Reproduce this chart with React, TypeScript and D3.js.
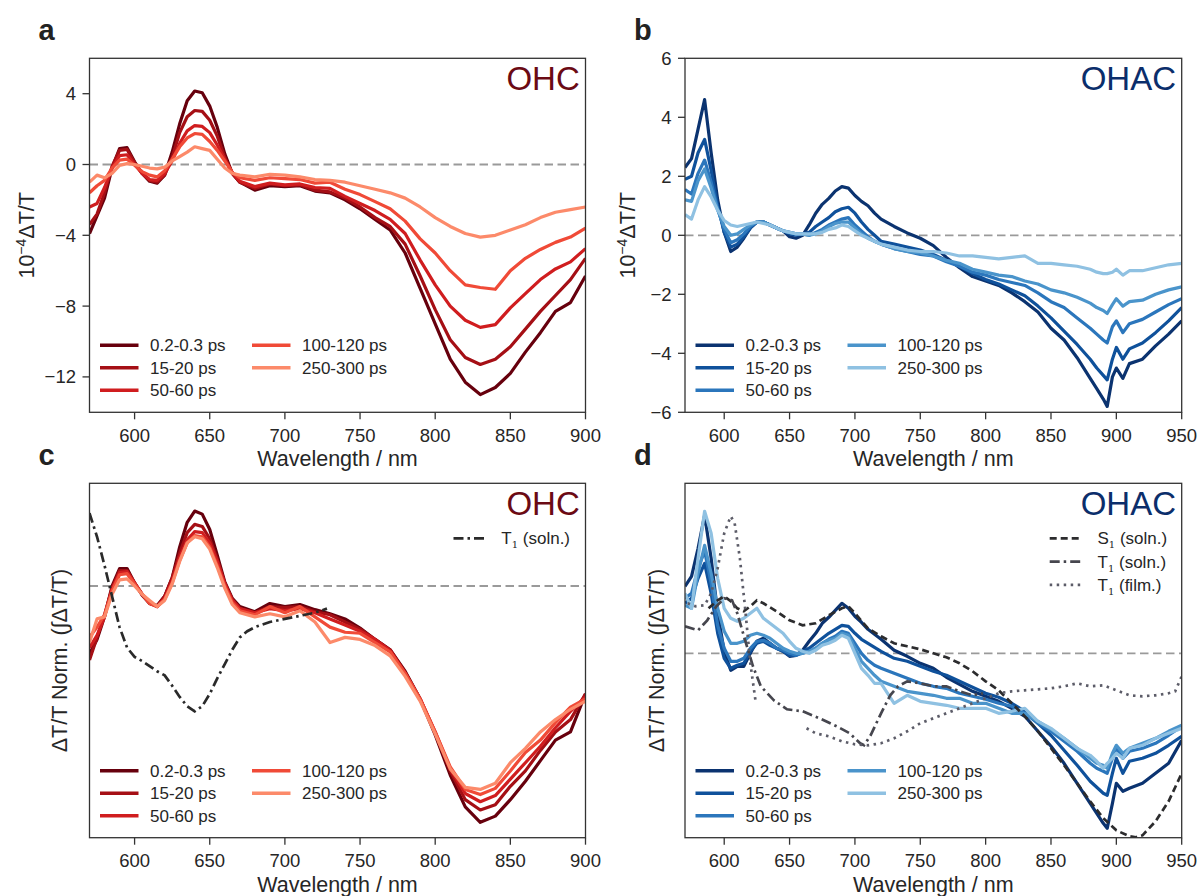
import React from 'react';
import * as d3 from 'd3';

const FONT = '"Liberation Sans", Arial, Helvetica, sans-serif';
const INK = '#262626';

// legend labels and line colours
const delayLabels = ['0.2-0.3 ps', '15-20 ps', '50-60 ps', '100-120 ps', '250-300 ps'];
const redShades = ['#67000d', '#a50f15', '#d01d1f', '#f04a37', '#fc8a6a'];
const blueShades = ['#0b3370', '#0f519b', '#2b76bc', '#4a94cb', '#8fc1e2'];

// wavelength grids (nm)
const wlOHC = [570, 575, 580, 585, 590, 595, 600, 605, 610, 615, 620, 625, 630, 635, 640, 645, 650, 655, 660, 665, 670,
  680, 690, 700, 710, 720, 730, 740, 750, 760, 770, 780, 790, 800, 810, 820, 830, 840, 850, 860, 870, 880, 890, 900];
const wlOHAC = [570, 575, 580, 585, 590, 595, 600, 605, 610, 615, 620, 625, 630, 635, 640, 645, 650, 655, 660, 665, 670,
  675, 680, 685, 690, 695, 700, 705, 710, 715, 720, 730, 740, 750, 760, 770, 780, 790, 800, 810, 820, 830, 840, 850,
  860, 870, 880, 885, 890, 893, 897, 900, 905, 910, 920, 930, 940, 950];

// panel a : OHC, 10^-4 dT/T
const ohcA_02 = [-3.9, -2.9, -1.9, -0.2, 0.9, 0.95, 0.15, -0.5, -0.95, -1.05, -0.6, 0.7, 2.3, 3.6, 4.15, 4.05, 3.3, 2.1, 0.6, -0.5, -1.0,
  -1.45, -1.2, -1.25, -1.2, -1.5, -1.6, -2.0, -2.5, -3.1, -3.7, -5.0, -7.0, -9.0, -11.0, -12.3, -13.0, -12.6, -11.8, -10.6, -9.5, -8.3, -7.8, -6.3];
const ohcA_15 = [-3.4, -2.8, -1.6, -0.1, 0.8, 0.85, 0.1, -0.5, -0.9, -1.0, -0.6, 0.4, 1.8, 2.7, 3.05, 3.0, 2.5, 1.6, 0.4, -0.5, -1.0,
  -1.35, -1.1, -1.2, -1.15, -1.45, -1.55, -1.9, -2.4, -3.0, -3.5, -4.5, -6.3, -8.2, -9.9, -10.9, -11.3, -11.0, -10.3, -9.3, -8.3, -7.4, -6.5, -5.3];
const ohcA_50 = [-2.4, -2.2, -1.3, -0.2, 0.5, 0.55, 0.0, -0.5, -0.85, -0.9, -0.5, 0.2, 1.2, 1.9, 2.2, 2.15, 1.8, 1.1, 0.3, -0.45, -0.95,
  -1.25, -1.05, -1.15, -1.1, -1.3, -1.35, -1.8, -2.2, -2.6, -3.1, -3.9, -5.4, -6.8, -8.0, -8.8, -9.2, -9.05, -8.1, -7.3, -6.5, -5.9, -5.5, -4.75];
const ohcA_100 = [-1.6, -1.2, -0.9, -0.2, 0.25, 0.3, -0.05, -0.4, -0.6, -0.7, -0.35, 0.3, 1.0, 1.5, 1.75, 1.7, 1.3, 0.8, 0.2, -0.45, -0.75,
  -0.9, -0.75, -0.8, -0.85, -1.05, -1.0, -1.4, -1.7, -2.1, -2.5, -3.2, -4.2, -5.0, -6.0, -6.8, -6.95, -7.05, -6.0, -5.3, -4.8, -4.4, -4.1, -3.6];
const ohcA_250 = [-1.0, -0.6, -0.75, -0.5, -0.05, 0.05, 0.0, -0.1, -0.2, -0.25, -0.15, 0.2, 0.45, 0.7, 1.0, 0.9, 0.8, 0.3, -0.2, -0.5, -0.6,
  -0.7, -0.55, -0.6, -0.7, -0.85, -0.9, -1.0, -1.2, -1.4, -1.6, -1.9, -2.4, -3.0, -3.5, -3.9, -4.1, -4.0, -3.7, -3.4, -3.0, -2.7, -2.55, -2.4];

// panel b : OHAC, 10^-4 dT/T
const ohacB_02 = [2.3, 2.6, 3.6, 4.6, 2.8, 1.2, 0.1, -0.55, -0.4, -0.1, 0.25, 0.45, 0.45, 0.35, 0.25, 0.15, -0.05, -0.1, 0.0, 0.35, 0.75,
  1.05, 1.25, 1.5, 1.65, 1.6, 1.35, 1.15, 1.0, 0.75, 0.55, 0.3, 0.08, -0.1, -0.35, -0.75, -1.1, -1.4, -1.55, -1.7, -1.95, -2.25, -2.6, -3.15,
  -3.55, -4.15, -4.85, -5.2, -5.55, -5.8, -4.8, -4.5, -4.85, -4.35, -4.2, -3.75, -3.35, -2.9];
const ohacB_15 = [1.9, 2.0, 2.8, 3.25, 2.2, 1.0, 0.1, -0.4, -0.3, -0.05, 0.25, 0.45, 0.45, 0.35, 0.25, 0.15, 0.05, 0.0, 0.05, 0.1, 0.3,
  0.45, 0.6, 0.8, 0.9, 0.95, 0.75, 0.45, 0.2, 0.0, -0.2, -0.3, -0.4, -0.5, -0.65, -0.85, -1.05, -1.3, -1.5, -1.65, -1.85, -2.05, -2.4, -2.8,
  -3.25, -3.7, -4.2, -4.5, -4.75, -4.9, -4.2, -3.8, -4.2, -3.85, -3.65, -3.3, -2.9, -2.45];
const ohacB_50 = [1.55, 1.4, 2.1, 2.55, 1.8, 0.9, 0.2, -0.25, -0.15, 0.05, 0.3, 0.45, 0.45, 0.35, 0.25, 0.15, 0.1, 0.05, 0.05, 0.0, 0.1,
  0.2, 0.35, 0.45, 0.55, 0.6, 0.35, 0.15, -0.05, -0.2, -0.3, -0.45, -0.55, -0.65, -0.7, -0.9, -1.05, -1.25, -1.35, -1.5, -1.6, -1.7, -1.95, -2.25,
  -2.45, -2.8, -3.15, -3.35, -3.55, -3.65, -3.1, -2.9, -3.3, -3.0, -2.85, -2.6, -2.35, -2.15];
const ohacB_100 = [1.2, 1.15, 1.85, 2.25, 1.6, 0.85, 0.3, 0.0, 0.05, 0.2, 0.35, 0.45, 0.45, 0.35, 0.25, 0.15, 0.1, 0.05, 0.05, 0.0, 0.05,
  0.15, 0.3, 0.4, 0.45, 0.45, 0.25, 0.05, -0.1, -0.2, -0.3, -0.45, -0.55, -0.6, -0.7, -0.85, -0.95, -1.15, -1.25, -1.35, -1.4, -1.55, -1.65, -1.85,
  -1.95, -2.1, -2.3, -2.45, -2.55, -2.65, -2.35, -2.15, -2.4, -2.25, -2.2, -2.0, -1.85, -1.75];
const ohacB_250 = [0.7, 0.55, 1.2, 1.65, 1.3, 0.85, 0.5, 0.35, 0.3, 0.35, 0.4, 0.45, 0.4, 0.35, 0.25, 0.15, 0.1, 0.05, 0.05, 0.05, 0.05,
  0.1, 0.2, 0.25, 0.35, 0.3, 0.15, 0.0, -0.1, -0.2, -0.3, -0.4, -0.5, -0.55, -0.55, -0.6, -0.7, -0.7, -0.75, -0.8, -0.75, -0.7, -0.95, -0.95,
  -1.0, -1.05, -1.15, -1.25, -1.3, -1.3, -1.25, -1.15, -1.35, -1.2, -1.2, -1.1, -1.0, -0.95];

// panel c : OHC, normalised
const ohcC_02 = [-0.66, -0.52, -0.3, 0.0, 0.17, 0.17, 0.03, -0.09, -0.17, -0.19, -0.1, 0.08, 0.38, 0.62, 0.73, 0.7, 0.55, 0.3, 0.04, -0.12, -0.2,
  -0.25, -0.17, -0.2, -0.18, -0.23, -0.27, -0.32, -0.41, -0.52, -0.62, -0.83, -1.1, -1.45, -1.84, -2.15, -2.3, -2.24, -2.08, -1.9, -1.7, -1.5, -1.42, -1.05];
const ohcC_15 = [-0.72, -0.5, -0.28, -0.02, 0.15, 0.15, 0.03, -0.08, -0.17, -0.2, -0.1, 0.08, 0.32, 0.52, 0.6, 0.58, 0.46, 0.26, 0.03, -0.13, -0.22,
  -0.26, -0.2, -0.21, -0.2, -0.25, -0.28, -0.35, -0.42, -0.52, -0.62, -0.84, -1.1, -1.43, -1.8, -2.08, -2.18, -2.13, -1.95, -1.8, -1.6, -1.42, -1.3, -1.05];
const ohcC_50 = [-0.6, -0.48, -0.3, -0.03, 0.13, 0.14, 0.03, -0.08, -0.16, -0.2, -0.12, 0.05, 0.28, 0.45, 0.53, 0.52, 0.42, 0.24, 0.02, -0.14, -0.22,
  -0.26, -0.22, -0.24, -0.22, -0.26, -0.32, -0.38, -0.44, -0.52, -0.63, -0.85, -1.1, -1.42, -1.78, -2.02, -2.1, -2.04, -1.88, -1.72, -1.56, -1.38, -1.22, -1.08];
const ohcC_100 = [-0.5, -0.4, -0.28, -0.05, 0.11, 0.12, 0.02, -0.08, -0.17, -0.2, -0.13, 0.03, 0.25, 0.42, 0.49, 0.48, 0.38, 0.2, 0.0, -0.16, -0.24,
  -0.28, -0.2, -0.26, -0.2, -0.3, -0.4, -0.45, -0.46, -0.55, -0.64, -0.85, -1.1, -1.42, -1.76, -1.98, -2.03, -1.97, -1.8, -1.62, -1.5, -1.33, -1.18, -1.1];
const ohcC_250 = [-0.55, -0.32, -0.3, -0.08, 0.06, 0.07, 0.0, -0.08, -0.14, -0.2, -0.14, 0.02, 0.24, 0.42, 0.48, 0.46, 0.36, 0.18, -0.02, -0.18, -0.26,
  -0.3, -0.27, -0.3, -0.24, -0.35, -0.55, -0.5, -0.52, -0.58, -0.68, -0.88, -1.12, -1.44, -1.78, -1.96, -1.98, -1.92, -1.72, -1.58, -1.42, -1.3, -1.2, -1.12];
// triplet reference, OHC solution
const t1SolnOHC_wl = [570, 575, 580, 585, 590, 595, 600, 605, 610, 615, 620, 625, 630, 635, 640, 645, 650, 655, 660, 665, 670, 675, 680, 690, 700, 710, 720, 728];
const t1SolnOHC = [0.71, 0.48, 0.2, -0.1, -0.4, -0.6, -0.69, -0.73, -0.78, -0.83, -0.87, -0.97, -1.08, -1.17, -1.22, -1.17, -1.05, -0.9, -0.76, -0.62,
  -0.5, -0.44, -0.4, -0.35, -0.32, -0.29, -0.26, -0.22];

// panel d : OHAC, normalised
const ohacD_02 = [0.67, 0.77, 1.05, 1.38, 0.95, 0.4, 0.02, -0.17, -0.13, -0.13, 0.0, 0.12, 0.15, 0.1, 0.05, 0.02, -0.03, -0.02, 0.03, 0.12, 0.2,
  0.3, 0.36, 0.43, 0.5, 0.45, 0.37, 0.31, 0.24, 0.19, 0.14, 0.03, -0.03, -0.1, -0.15, -0.24, -0.31, -0.38, -0.43, -0.48, -0.55, -0.63, -0.78, -0.93,
  -1.1, -1.3, -1.5, -1.6, -1.7, -1.75, -1.5, -1.3, -1.38, -1.35, -1.3, -1.2, -1.1, -0.87];
const ohacD_15 = [0.5, 0.55, 0.75, 0.9, 0.6, 0.2, -0.05, -0.15, -0.12, -0.1, 0.02, 0.1, 0.12, 0.08, 0.05, 0.02, -0.02, -0.02, 0.02, 0.05, 0.1,
  0.15, 0.2, 0.24, 0.28, 0.27, 0.2, 0.14, 0.1, 0.06, 0.02, -0.05, -0.08, -0.13, -0.18, -0.22, -0.28, -0.34, -0.4, -0.44, -0.5, -0.58, -0.7, -0.82,
  -0.97, -1.12, -1.28, -1.34, -1.4, -1.42, -1.2, -1.05, -1.2, -1.08, -1.05, -1.0, -0.92, -0.83];
const ohacD_50 = [0.55, 0.6, 0.85, 1.02, 0.7, 0.28, 0.05, -0.08, -0.08, -0.05, 0.05, 0.12, 0.13, 0.1, 0.05, 0.03, 0.0, -0.02, 0.0, 0.02, 0.05,
  0.1, 0.14, 0.17, 0.22, 0.2, 0.1, 0.0, -0.07, -0.12, -0.15, -0.2, -0.25, -0.3, -0.33, -0.35, -0.4, -0.43, -0.46, -0.5, -0.53, -0.6, -0.7, -0.78,
  -0.88, -0.98, -1.1, -1.15, -1.18, -1.2, -1.05, -0.95, -1.05, -0.98, -0.95, -0.9, -0.82, -0.73];
const ohacD_100 = [0.48, 0.45, 0.8, 1.08, 0.8, 0.45, 0.22, 0.1, 0.1, 0.12, 0.18, 0.2, 0.18, 0.15, 0.1, 0.05, 0.02, 0.0, 0.0, 0.02, 0.05,
  0.1, 0.13, 0.15, 0.2, 0.18, 0.05, -0.08, -0.15, -0.22, -0.28, -0.33, -0.38, -0.4, -0.42, -0.45, -0.45, -0.5, -0.5, -0.55, -0.6, -0.6, -0.68, -0.76,
  -0.85, -0.95, -1.05, -1.1, -1.12, -1.15, -1.0, -0.92, -1.0, -0.95, -0.9, -0.85, -0.78, -0.72];
const ohacD_250 = [0.6, 0.45, 0.95, 1.42, 1.2, 0.75, 0.45, 0.35, 0.32, 0.35, 0.4, 0.45, 0.35, 0.3, 0.25, 0.2, 0.12, 0.05, 0.02, 0.0, 0.03,
  0.08, 0.1, 0.13, 0.18, 0.15, 0.0, -0.15, -0.22, -0.3, -0.3, -0.5, -0.42, -0.48, -0.5, -0.52, -0.55, -0.55, -0.55, -0.6, -0.58, -0.55, -0.68, -0.75,
  -0.85, -0.95, -1.02, -1.08, -1.15, -1.1, -1.05, -1.0, -1.05, -0.95, -0.92, -0.85, -0.8, -0.75];
// reference spectra, OHAC
const s1SolnOHAC_wl = [588, 595, 600, 605, 610, 615, 620, 625, 630, 640, 650, 660, 670, 680, 690, 695, 700, 710, 720, 730, 740, 750, 760, 770,
  780, 790, 800, 810, 820, 830, 840, 850, 860, 870, 880, 890, 900, 910, 915, 920, 930, 940, 950];
const s1SolnOHAC = [0.45, 0.53, 0.57, 0.52, 0.45, 0.42, 0.47, 0.53, 0.5, 0.42, 0.33, 0.28, 0.3, 0.38, 0.45, 0.47, 0.4, 0.25, 0.17, 0.1, 0.07,
  0.04, 0.0, -0.04, -0.1, -0.18, -0.28, -0.37, -0.5, -0.63, -0.78, -0.95, -1.12, -1.3, -1.48, -1.65, -1.77, -1.83, -1.84, -1.82, -1.68, -1.48, -1.2];
const t1SolnOHAC_wl = [570, 580, 587, 594, 600, 606, 610, 616, 622, 628, 638, 648, 660, 673, 686, 696, 704, 707, 712, 720, 727, 733, 740, 750,
  760, 770, 780, 790, 798];
const t1SolnOHAC = [0.27, 0.23, 0.33, 0.47, 0.55, 0.53, 0.4, 0.13, -0.13, -0.33, -0.47, -0.56, -0.58, -0.65, -0.73, -0.8, -0.9, -0.92, -0.82,
  -0.6, -0.42, -0.33, -0.28, -0.3, -0.33, -0.33, -0.38, -0.42, -0.4];
const t1FilmOHAC_wl = [572, 578, 585, 590, 595, 600, 605, 608, 612, 616, 620, 624, 640, 663, 670, 680, 690, 700, 710, 720, 730, 740, 750, 760,
  770, 780, 790, 800, 810, 820, 830, 840, 850, 860, 870, 880, 890, 900, 910, 920, 930, 940, 945, 950];
const t1FilmOHAC = [0.5, 0.47, 0.48, 0.6, 0.85, 1.2, 1.37, 1.3, 0.95, 0.45, -0.1, -0.48, null, -0.75, -0.8, -0.83, -0.88, -0.91, -0.92, -0.9,
  -0.85, -0.78, -0.7, -0.65, -0.6, -0.55, -0.5, -0.45, -0.4, -0.38, -0.37, -0.36, -0.35, -0.33, -0.3, -0.33, -0.32, -0.37, -0.42, -0.43, -0.42,
  -0.4, -0.38, -0.23];

const ticksOHC = [600, 650, 700, 750, 800, 850, 900];
const ticksOHAC = [600, 650, 700, 750, 800, 850, 900, 950];

const DASH = '7,4';
const DASHDOT = '10,4,2.5,4';
const DOT = '2.5,4.5';

const fmt = (v) => String(v).replace('-', '\u2212');

function Panel(props) {
  const { id, left, right, top, bottom, xMax, xTicks, yDomain, yTicks, curves, colors, refs, refLegend,
    tag, tagColor, letter, ylabel } = props;
  const x = d3.scaleLinear().domain([570, xMax]).range([left, right]);
  const y = d3.scaleLinear().domain(yDomain).range([bottom, top]);
  const line = d3.line()
    .defined((d) => d[1] !== null)
    .x((d) => x(d[0]))
    .y((d) => y(d[1]));
  const path = (w, v) => line(w.map((wl, i) => [wl, v[i]]));
  const rows = [bottom - 67, bottom - 44.5, bottom - 22];

  return (
    <g fontFamily={FONT} fill={INK}>
      <defs>
        <clipPath id={id}>
          <rect x={left} y={top} width={right - left} height={bottom - top} />
        </clipPath>
      </defs>
      <g clipPath={`url(#${id})`}>
        <line x1={left} x2={right} y1={y(0)} y2={y(0)} stroke="#9a9a9a" strokeWidth={1.8} strokeDasharray="8.5,4.5" />
        {curves.map((c, i) => (
          <path key={i} d={path(c.w, c.v)} fill="none" stroke={colors[i]} strokeWidth={3.2} strokeLinejoin="round" />
        ))}
        {refs.map((r, i) => (
          <path key={'r' + i} d={path(r.w, r.v)} fill="none" stroke={r.color} strokeWidth={2.7} strokeDasharray={r.dash} />
        ))}
      </g>
      <rect x={left} y={top} width={right - left} height={bottom - top} fill="none" stroke="#333" strokeWidth={1.3} />
      {xTicks.map((t) => (
        <g key={t}>
          <line x1={x(t)} x2={x(t)} y1={bottom} y2={bottom + 7} stroke="#333" strokeWidth={1.3} />
          <text x={x(t)} y={bottom + 29.5} fontSize={18.5} textAnchor="middle">{t}</text>
        </g>
      ))}
      {yTicks.map((t) => (
        <g key={'y' + t}>
          <line x1={left - 7} x2={left} y1={y(t)} y2={y(t)} stroke="#333" strokeWidth={1.3} />
          <text x={left - 13.5} y={y(t) + 6.5} fontSize={18.5} textAnchor="end">{fmt(t)}</text>
        </g>
      ))}
      <text x={(left + right) / 2} y={bottom + 54} fontSize={21.5} textAnchor="middle">Wavelength / nm</text>
      <text transform={`translate(${ylabel.x},${(top + bottom) / 2}) rotate(-90)`} fontSize={21.5} textAnchor="middle">
        {ylabel.sup ? (
          <>
            10<tspan fontSize={14} dy={-8.5}>{'\u22124'}</tspan><tspan dy={8.5}>ΔT/T</tspan>
          </>
        ) : ylabel.text}
      </text>
      <text x={left - 51} y={top - 18.3} fontSize={29} fontWeight="bold" fill="#222">{letter}</text>
      <text x={right - 5.7} y={top + 31.3} fontSize={33} textAnchor="end" fill={tagColor}>{tag}</text>
      {delayLabels.map((lab, i) => {
        const col = i < 3 ? 0 : 1;
        const ry = rows[i < 3 ? i : i - 3];
        const lx = left + (col === 0 ? 10.5 : 162.5);
        return (
          <g key={lab}>
            <line x1={lx} x2={lx + 38.5} y1={ry} y2={ry} stroke={colors[i]} strokeWidth={3.6} />
            <text x={lx + 50} y={ry + 6} fontSize={17}>{lab}</text>
          </g>
        );
      })}
      {refLegend.map((r, i) => {
        const ry = top + 55 + i * 23.3;
        return (
          <g key={'l' + i}>
            <line x1={right - 132} x2={right - 99} y1={ry} y2={ry} stroke={r.color} strokeWidth={2.7} strokeDasharray={r.dash} />
            <text x={right - 84.2} y={ry + 6} fontSize={17}>
              {r.state}<tspan fontSize={10} dy={4} fontFamily="DejaVu Serif, serif">1</tspan>
              <tspan dy={-4}>{r.rest}</tspan>
            </text>
          </g>
        );
      })}
    </g>
  );
}

export default function App() {
  const toCurves = (arrs, w) => arrs.map((v) => ({ w, v }));
  const panelA = toCurves([ohcA_02, ohcA_15, ohcA_50, ohcA_100, ohcA_250], wlOHC);
  const panelB = toCurves([ohacB_02, ohacB_15, ohacB_50, ohacB_100, ohacB_250], wlOHAC);
  const panelC = toCurves([ohcC_02, ohcC_15, ohcC_50, ohcC_100, ohcC_250], wlOHC);
  const panelD = toCurves([ohacD_02, ohacD_15, ohacD_50, ohacD_100, ohacD_250], wlOHAC);

  const refC = [{ w: t1SolnOHC_wl, v: t1SolnOHC, color: '#2a2a2a', dash: DASHDOT }];
  const refD = [
    { w: s1SolnOHAC_wl, v: s1SolnOHAC, color: '#2c2c2e', dash: DASH },
    { w: t1SolnOHAC_wl, v: t1SolnOHAC, color: '#46464e', dash: DASHDOT },
    { w: t1FilmOHAC_wl, v: t1FilmOHAC, color: '#5c5c68', dash: DOT },
  ];
  const legC = [{ state: 'T', rest: ' (soln.)', color: '#2a2a2a', dash: DASHDOT }];
  const legD = [
    { state: 'S', rest: ' (soln.)', color: '#2c2c2e', dash: DASH },
    { state: 'T', rest: ' (soln.)', color: '#46464e', dash: DASHDOT },
    { state: 'T', rest: ' (film.)', color: '#5c5c68', dash: DOT },
  ];

  return (
    <svg width={1199} height={896} style={{ position: 'absolute', left: 0, top: 0, background: '#fff' }}>
      <Panel id="clipA" left={89.5} right={585.5} top={58.3} bottom={412.3} xMax={900} xTicks={ticksOHC}
        yDomain={[-14, 6]} yTicks={[-12, -8, -4, 0, 4]} curves={panelA} colors={redShades} refs={[]} refLegend={[]}
        tag="OHC" tagColor="#6b0a14" letter="a" ylabel={{ x: 34, sup: true }} />
      <Panel id="clipB" left={685} right={1181.7} top={58.3} bottom={412.3} xMax={950} xTicks={ticksOHAC}
        yDomain={[-6, 6]} yTicks={[-6, -4, -2, 0, 2, 4, 6]} curves={panelB} colors={blueShades} refs={[]} refLegend={[]}
        tag="OHAC" tagColor="#0b2e6b" letter="b" ylabel={{ x: 635, sup: true }} />
      <Panel id="clipC" left={89.5} right={585.5} top={483.3} bottom={837.7} xMax={900} xTicks={ticksOHC}
        yDomain={[-2.45, 1.0]} yTicks={[]} curves={panelC} colors={redShades} refs={refC} refLegend={legC}
        tag="OHC" tagColor="#6b0a14" letter="c" ylabel={{ x: 67, text: 'ΔT/T Norm. (∫ΔT/T)' }} />
      <Panel id="clipD" left={685} right={1181.7} top={483.3} bottom={837.7} xMax={950} xTicks={ticksOHAC}
        yDomain={[-1.844, 1.7]} yTicks={[]} curves={panelD} colors={blueShades} refs={refD} refLegend={legD}
        tag="OHAC" tagColor="#0b2e6b" letter="d" ylabel={{ x: 664, text: 'ΔT/T Norm. (∫ΔT/T)' }} />
    </svg>
  );
}
